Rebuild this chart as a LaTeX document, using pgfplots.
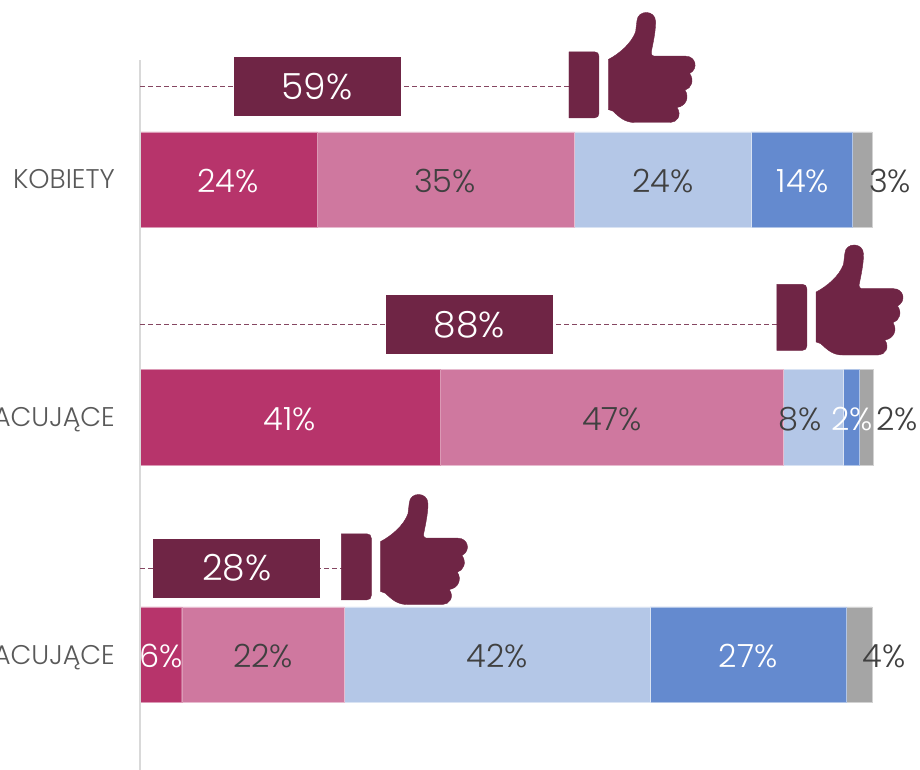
\documentclass[border=0pt]{standalone}
\usepackage{fontspec}
\setmainfont{Poppins Light}
\usepackage{pgfplots}
\pgfplotsset{compat=1.18}
\definecolor{cA}{HTML}{B7346B}
\definecolor{cB}{HTML}{CF789F}
\definecolor{cC}{HTML}{B4C7E7}
\definecolor{cD}{HTML}{648ACF}
\definecolor{cE}{HTML}{A5A5A5}
\definecolor{dk}{HTML}{6F2545}
\definecolor{tx}{HTML}{404040}
\definecolor{lb}{HTML}{595959}
\pgfdeclareplotmark{thumb}{%
  \pgftransformshift{\pgfpoint{-29.33pt}{84.33pt}}%
  \fill[dk,x=0.3333pt,y=-0.3333pt]
   (88,155) -- (165,155) .. controls (173,155) and (178,160) .. (178,168)
   -- (178,340) .. controls (178,348) and (173,353) .. (165,353) -- (88,353) -- cycle
   (206,178) .. controls (240,160) and (275,130) .. (288,95)
   -- (292,62) .. controls (294,28) and (348,28) .. (348,65)
   .. controls (348,95) and (340,130) .. (335,155)
   .. controls (334,165) and (338,168) .. (348,168)
   -- (438,168) .. controls (468,168) and (478,205) .. (450,220)
   .. controls (465,240) and (455,265) .. (436,270)
   .. controls (450,290) and (440,318) .. (412,322)
   .. controls (428,345) and (412,367) .. (392,367)
   -- (285,367) .. controls (255,367) and (238,350) .. (220,333)
   -- (206,328) -- cycle;
}
\pgfplotsset{base/.style={
  scale only axis,width=920pt,height=770pt,
  xmin=-19.126,xmax=106.557,
  ymin=-0.7558,ymax=2.4863,y dir=reverse,
  hide axis,clip=false}}
\begin{document}
\begin{tikzpicture}
\clip[use as bounding box] (0,0) rectangle (920pt,770pt);
\begin{axis}[base,xbar stacked,bar width=95.5pt]
\addplot[fill=cA,draw=white!50!cA,line width=0.3pt] coordinates {(24.2,0) (41.0,1) (5.7,2)};
\addplot[fill=cB,draw=white!50!cB,line width=0.3pt] coordinates {(35.1,0) (46.9,1) (22.2,2)};
\addplot[fill=cC,draw=white!50!cC,line width=0.3pt] coordinates {(24.2,0) (8.2,1) (41.8,2)};
\addplot[fill=cD,draw=white!50!cD,line width=0.3pt] coordinates {(13.8,0) (2.2,1) (26.8,2)};
\addplot[fill=cE,draw=white!50!cE,line width=0.3pt] coordinates {(2.7,0) (1.8,1) (3.5,2)};
\end{axis}
\begin{axis}[base,
  lbl/.style={only marks,mark=none,nodes near coords,point meta=explicit symbolic,
    nodes near coords style={anchor=center,inner sep=0pt,font=\fontsize{32}{32}\selectfont,text=#1}}]
\addplot[draw={rgb,255:red,217;green,217;blue,217},line width=2pt] coordinates {(-0.05,-0.503) (-0.05,2.4863)};
\addplot[dk!85!white,line width=1pt,dash pattern=on 5pt off 3pt] coordinates {(0,-0.3895) (58.8,-0.3895)};
\addplot[dk!85!white,line width=1pt,dash pattern=on 5pt off 3pt] coordinates {(0,0.6126) (87.2,0.6126)};
\addplot[dk!85!white,line width=1pt,dash pattern=on 5pt off 3pt] coordinates {(0,1.6358) (27.7,1.6358)};
\addplot[only marks,mark=thumb,dk] coordinates {(58.6,-0.4) (87.0,0.579) (27.5,1.6295)};
\addplot[only marks,mark=none,nodes near coords,point meta=explicit symbolic,
  nodes near coords style={anchor=center,fill=dk,text=white,inner sep=0pt,minimum width=167pt,minimum height=59pt,font=\fontsize{36}{36}\selectfont}]
  coordinates {(24.2,-0.3895)[59\%] (45.0,0.6126)[88\%] (13.2,1.6358)[28\%]};
\addplot[lbl=white] coordinates {(12.02,0.008)[24\%] (90.57,0.008)[14\%]
  (20.49,1.008)[41\%] (97.27,1.008)[2\%]
  (2.87,2.008)[6\%] (83.06,2.008)[27\%]};
\addplot[lbl=tx] coordinates {(41.67,0.008)[35\%] (71.45,0.008)[24\%] (102.46,0.008)[3\%]
  (64.48,1.008)[47\%] (90.16,1.008)[8\%] (103.42,1.008)[2\%]
  (16.80,2.008)[22\%] (48.77,2.008)[42\%] (101.64,2.008)[4\%]};
\addplot[only marks,mark=none,nodes near coords,point meta=explicit symbolic,
  nodes near coords style={anchor=east,inner sep=0pt,font=\fontsize{27}{27}\selectfont,text=lb}]
  coordinates {(-3.415,0)[KOBIETY] (-3.415,1.012)[PRACUJĄCE] (-3.415,2.012)[NIEPRACUJĄCE]};
\end{axis}
\end{tikzpicture}
\end{document}
